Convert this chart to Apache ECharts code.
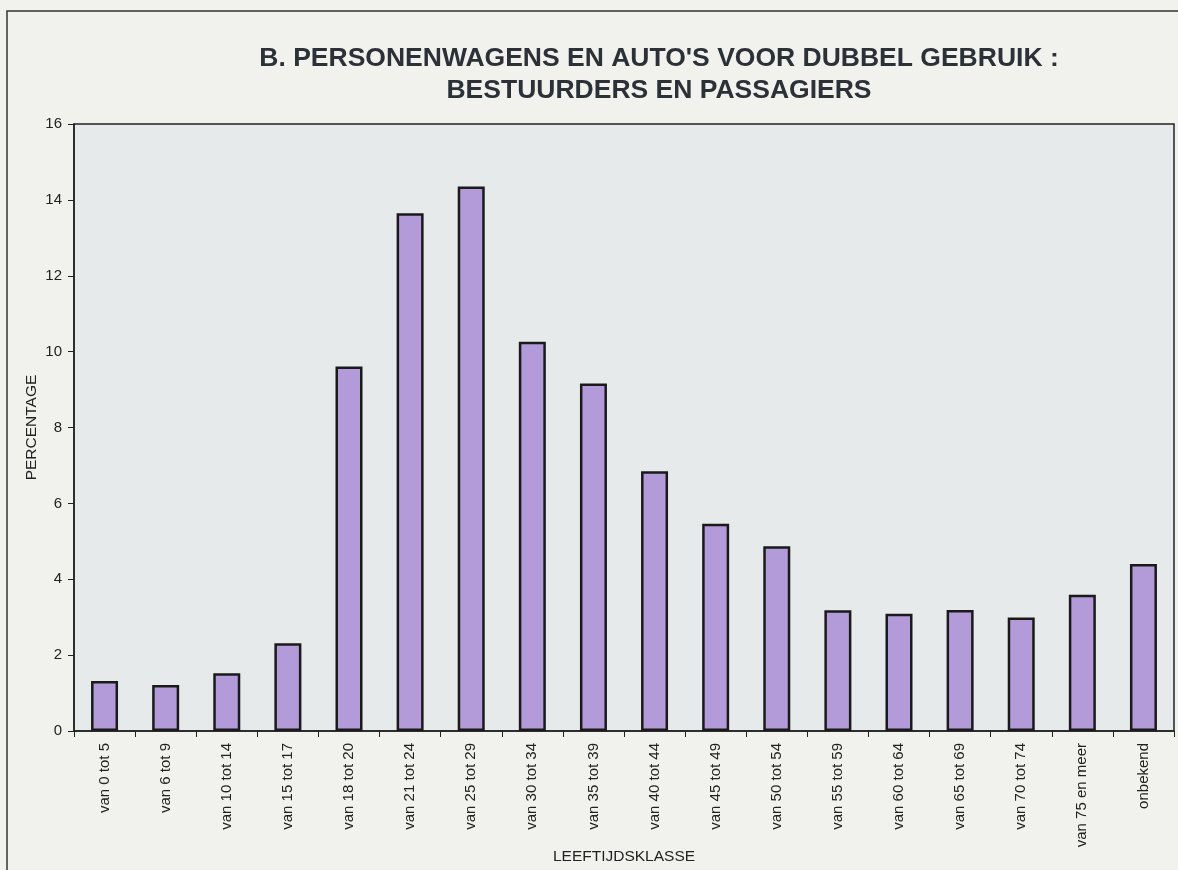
<!DOCTYPE html>
<html>
<head>
<meta charset="utf-8">
<script src="https://cdn.jsdelivr.net/npm/echarts@6/dist/echarts.min.js"></script>
<style>
html,body{margin:0;padding:0;background:#f1f1ee;}
#c{width:1178px;height:870px;}
</style>
</head>
<body>
<div id="c"></div>
<script>
const titleLines = ["B. PERSONENWAGENS EN AUTO'S VOOR DUBBEL GEBRUIK :", "BESTUURDERS EN PASSAGIERS"];
const categories = ["van 0 tot 5","van 6 tot 9","van 10 tot 14","van 15 tot 17","van 18 tot 20","van 21 tot 24","van 25 tot 29","van 30 tot 34","van 35 tot 39","van 40 tot 44","van 45 tot 49","van 50 tot 54","van 55 tot 59","van 60 tot 64","van 65 tot 69","van 70 tot 74","van 75 en meer","onbekend"];
const percentages = [1.32,1.21,1.52,2.31,9.61,13.65,14.35,10.26,9.16,6.85,5.46,4.87,3.18,3.09,3.19,2.99,3.59,4.40];
const yAxisName = "PERCENTAGE";
const xAxisName = "LEEFTIJDSKLASSE";

const chart = echarts.init(document.getElementById('c'));
const font = "'Liberation Sans', Arial, sans-serif";
chart.setOption({
  backgroundColor: '#f1f1ee',
  animation: false,
  title: {
    text: titleLines.join('\n'),
    left: 654, top: 38, textAlign: 'center',
    textStyle: {fontFamily: font, fontSize: 26.5, fontWeight: 'bold', color: '#2c3137', lineHeight: 32}
  },
  graphic: [{
    type: 'rect', shape: {x: 7, y: 11, width: 1200, height: 900}, silent: true, z: -1,
    style: {fill: 'none', stroke: '#333', lineWidth: 1.5}
  }],
  grid: {left: 74, top: 124, right: 4, bottom: 139, outerBoundsMode: 'none', containLabel: false,
    show: true, backgroundColor: '#e6eaea', borderColor: '#222', borderWidth: 1.5},
  xAxis: {
    type: 'category', data: categories,
    name: xAxisName, nameLocation: 'middle', nameGap: 118, nameMoveOverlap: false,
    nameTextStyle: {fontFamily: font, fontSize: 15.5, color: '#222'},
    axisLine: {lineStyle: {color: '#222', width: 1.5}},
    axisTick: {show: true, length: 6, lineStyle: {color: '#222'}},
    axisLabel: {rotate: 90, interval: 0, fontFamily: font, fontSize: 15, color: '#222', margin: 12}
  },
  yAxis: {
    type: 'value', min: 0, max: 16, interval: 2,
    name: yAxisName, nameLocation: 'middle', nameGap: 34, nameMoveOverlap: false,
    nameTextStyle: {fontFamily: font, fontSize: 15.5, color: '#222'},
    axisLine: {show: true, lineStyle: {color: '#222', width: 1.5}},
    axisTick: {show: true, length: 6, lineStyle: {color: '#222'}},
    axisLabel: {fontFamily: font, fontSize: 15, color: '#222', margin: 12},
    splitLine: {show: false}
  },
  series: [{
    type: 'bar', data: percentages, barWidth: 27,
    itemStyle: {color: '#b39ad8', borderColor: '#1a1a1a', borderWidth: 2.5}
  }]
});
</script>
</body>
</html>
